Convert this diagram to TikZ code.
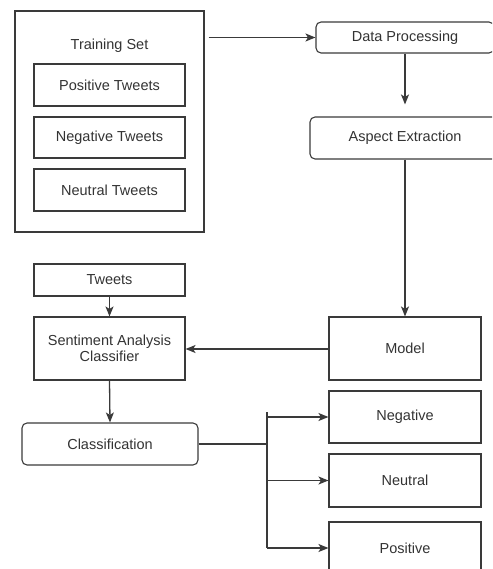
\documentclass[tikz,border=0pt]{standalone}
\usepackage{fontspec}
\setmainfont{Liberation Sans}
\usetikzlibrary{arrows.meta,calc}
\definecolor{linec}{HTML}{3A3A3A}
\definecolor{textc}{HTML}{333333}
\begin{document}
\begin{tikzpicture}[x=1pt,y=-1pt,
  every node/.style={font=\fontsize{14.5}{16}\selectfont, text=textc},
  box/.style={draw=linec, line width=1.1pt, rectangle, inner sep=0pt, align=center},
  rbox/.style={box, rounded corners=5pt},
  conn/.style={draw=linec, line width=1.3pt},
  arr/.style={conn, -{Stealth[length=10pt,width=8pt,inset=2.5pt]}}]
\useasboundingbox (0,0) rectangle (492,569);
\clip (0,0) rectangle (492,569);
% training set group
\node[box, minimum width=189pt, minimum height=221pt] (train) at (109.5,121.5) {};
\node (trainlbl) at (109.5,45.5) {Training Set};
\node[box, minimum width=151pt, minimum height=42pt] (pos) at (109.5,85) {Positive Tweets};
\node[box, minimum width=151pt, minimum height=41pt] (negt) at (109.5,137.5) {Negative Tweets};
\node[box, minimum width=151pt, minimum height=42pt] (neut) at (109.5,190) {Neutral Tweets};
% pipeline right
\node[rbox, minimum width=178pt, minimum height=31pt] (dp) at (405,37.5) {Data Processing};
\node[rbox, minimum width=190pt, minimum height=42pt] (ae) at (405,138) {Aspect Extraction};
\node[box, minimum width=152pt, minimum height=63pt] (model) at (405,348.5) {Model};
% left pipeline
\node[box, minimum width=151pt, minimum height=32pt] (tw) at (109.5,280) {Tweets};
\node[box, minimum width=151pt, minimum height=63pt] (sac) at (109.5,348.5) {Sentiment Analysis\\Classifier};
\node[rbox, minimum width=176pt, minimum height=42pt] (cls) at (110,444) {Classification};
% outputs
\node[box, minimum width=152pt, minimum height=52pt] (neg) at (405,417) {Negative};
\node[box, minimum width=152pt, minimum height=53pt] (neu) at (405,480.5) {Neutral};
\node[box, minimum width=152pt, minimum height=52pt] (posr) at (405,548) {Positive};
% bus
\coordinate (bustop) at (267,412);
\coordinate (busbot) at (267,548);
% connectors
\draw[arr] ([xshift=4pt]train.east |- dp.west) -- (dp.west);
\draw[arr, shorten >=12pt] (dp.south) -- (ae.north);
\draw[arr] (ae.south) -- (model.north);
\draw[arr] (model.west |- 0,349) -- (sac.east |- 0,349);
\draw[arr] (tw.south) -- (sac.north);
\draw[arr] (sac.south) -- (cls.north);
\draw[conn] (cls.east) -- (bustop |- cls.east);
\draw[conn] (bustop) -- (busbot);
\draw[arr] (bustop |- neg.west) -- (neg.west);
\draw[arr] (bustop |- neu.west) -- (neu.west);
\draw[arr] (busbot) -- (posr.west);
\end{tikzpicture}
\end{document}
